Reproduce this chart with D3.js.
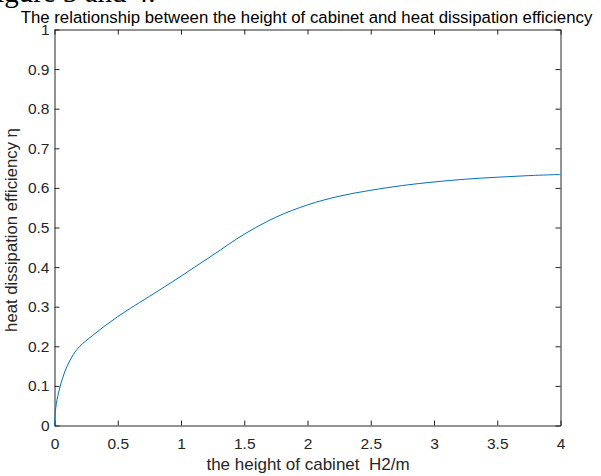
<!DOCTYPE html>
<html><head><meta charset="utf-8">
<script src="https://cdn.jsdelivr.net/npm/d3@7"></script>
<style>body{margin:0;background:#fff;overflow:hidden}</style>
</head><body>
<script>
const heights = [0,0.005,0.01,0.02,0.03,0.05,0.075,0.1,0.15,0.2,0.3,0.4,0.5,0.6,0.75,1.0,1.25,1.5,1.75,2.0,2.25,2.5,2.75,3.0,3.25,3.5,3.75,4.0];
const efficiency = [0,0.03,0.045,0.065,0.08,0.105,0.13,0.15,0.18,0.2,0.227,0.252,0.275,0.296,0.326,0.377,0.43,0.483,0.526,0.557,0.579,0.594,0.606,0.615,0.622,0.627,0.631,0.634];
const xTicks = [0,0.5,1,1.5,2,2.5,3,3.5,4];
const yTicks = [0,0.1,0.2,0.3,0.4,0.5,0.6,0.7,0.8,0.9,1];

const W=601,H=476;
const L=54.5,R=560.5,T=29.5,B=425.5;
const svg=d3.select("body").append("svg").attr("width",W).attr("height",H)
  .style("font-family","'Liberation Sans',Arial,sans-serif");
const x=d3.scaleLinear().domain([0,4]).range([L,R]);
const y=d3.scaleLinear().domain([0,1]).range([B,T]);
const ax="#262626";

// cut-off heading text at top (page text above the figure)
svg.append("text").attr("x",-20).attr("y",2).attr("font-family","'Liberation Serif','Times New Roman',serif")
  .attr("font-size",29).attr("fill","#000").text("Figure 3 and 4.");

svg.append("text").attr("x",306.5).attr("y",22.5).attr("text-anchor","middle")
  .attr("font-size",16.8).attr("fill","#000")
  .text("The relationship between the height of cabinet and heat dissipation efficiency");

const g=svg.append("g");
const xa=d3.axisBottom(x).tickValues(xTicks).tickSizeInner(-5).tickSizeOuter(0).tickPadding(12).tickFormat(d=>String(d));
const xt=d3.axisTop(x).tickValues(xTicks).tickSizeInner(-5).tickSizeOuter(0).tickFormat("");
const ya=d3.axisLeft(y).tickValues(yTicks).tickSizeInner(-5).tickSizeOuter(0).tickPadding(5).tickFormat(d=>String(d));
const yr=d3.axisRight(y).tickValues(yTicks).tickSizeInner(-5).tickSizeOuter(0).tickFormat("");
function style(sel){sel.selectAll("path").attr("stroke",ax).attr("stroke-width",1);
  sel.selectAll("line").attr("stroke",ax);
  sel.selectAll("text").attr("fill",ax).attr("font-size",15.5).attr("font-family","'Liberation Sans',Arial,sans-serif");}
g.append("g").attr("transform",`translate(0,${B})`).call(xa).call(style);
g.append("g").attr("transform",`translate(0,${T})`).call(xt).call(style);
g.append("g").attr("transform",`translate(${L},0)`).call(ya).call(style);
g.append("g").attr("transform",`translate(${R},0)`).call(yr).call(style);

const data=heights.map((h,i)=>[h,efficiency[i]]);
svg.append("path").datum(data).attr("fill","none").attr("stroke","#0072BD").attr("stroke-width",1)
  .attr("d",d3.line().x(d=>x(d[0])).y(d=>y(d[1])).curve(d3.curveCatmullRom.alpha(0.5)));

svg.append("text").attr("x",308).attr("y",470).attr("text-anchor","middle").attr("font-size",17).attr("fill",ax)
  .style("white-space","pre").text("the height of cabinet  H2/m");
svg.append("text").attr("transform",`translate(17,230) rotate(-90)`).attr("text-anchor","middle")
  .attr("font-size",16.7).attr("fill",ax).text("heat dissipation efficiency η");
</script>
</body></html>
